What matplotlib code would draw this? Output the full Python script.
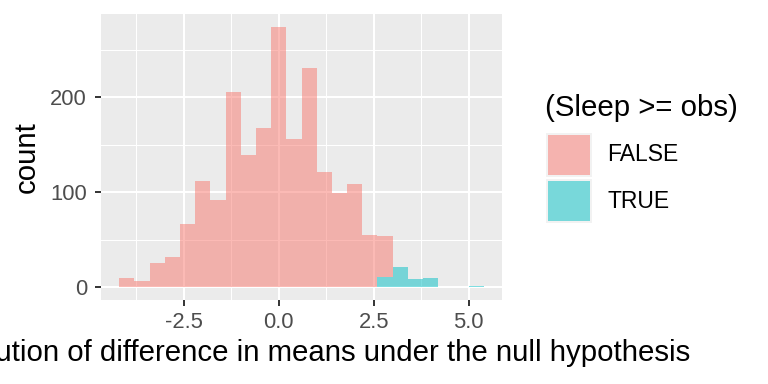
import matplotlib
matplotlib.use("Agg")
import matplotlib.pyplot as plt
from matplotlib.patches import Rectangle
from matplotlib.ticker import MultipleLocator
import numpy as np

plt.rcParams['font.family'] = ['Liberation Sans', 'DejaVu Sans']

# histogram bins (binwidth 0.4), counts
bin_centers = [-4.0, -3.6, -3.2, -2.8, -2.4, -2.0, -1.6, -1.2, -0.8, -0.4,
               0.0, 0.4, 0.8, 1.2, 1.6, 2.0, 2.4, 2.8, 3.2, 3.6, 4.0, 4.4, 4.8, 5.2]
false_counts = [10, 6, 25, 32, 66, 112, 92, 205, 139, 168,
                274, 156, 231, 121, 99, 109, 55, 43, 0, 0, 0, 0, 0, 0]
true_counts = [0, 0, 0, 0, 0, 0, 0, 0, 0, 0,
               0, 0, 0, 0, 0, 0, 0, 11, 21, 8, 10, 0, 0, 1]
binwidth = 0.4

legend_title = "(Sleep >= obs)"
legend_labels = ["FALSE", "TRUE"]
colors = ["#F8766D", "#00BFC4"]

W, H = 768, 384
fig = plt.figure(figsize=(W / 100, H / 100), dpi=100)
ax = fig.add_axes([101 / W, (H - 300) / H, 401 / W, 286 / H])

ax.set_facecolor("#EBEBEB")
ax.set_axisbelow(True)
ax.xaxis.set_major_locator(MultipleLocator(2.5))
ax.xaxis.set_minor_locator(MultipleLocator(1.25))
ax.yaxis.set_major_locator(MultipleLocator(100))
ax.yaxis.set_minor_locator(MultipleLocator(50))
ax.grid(which="major", color="white", linewidth=1.5)
ax.grid(which="minor", color="white", linewidth=0.75)

x = np.array(bin_centers)
t = np.array(true_counts)
f = np.array(false_counts)
# ggplot stacks the second level (TRUE) at the bottom
ax.bar(x, t, width=binwidth, color=colors[1], alpha=0.5, linewidth=0)
ax.bar(x, f, width=binwidth, bottom=t, color=colors[0], alpha=0.5, linewidth=0)

lo = min(bin_centers) - binwidth / 2
hi = max(bin_centers) + binwidth / 2
pad = (hi - lo) * 0.05
ax.set_xlim(lo - pad, hi + pad)
ymax = (f + t).max()
ax.set_ylim(-ymax * 0.05, ymax * 1.05)

ax.set_xticks([-2.5, 0.0, 2.5, 5.0])
ax.set_xticklabels(["-2.5", "0.0", "2.5", "5.0"])
ax.set_yticks([0, 100, 200])

for s in ax.spines.values():
    s.set_visible(False)
ax.tick_params(which="major", length=4.5, width=1.4, color="#333333",
               labelcolor="#4D4D4D", labelsize=15.8, pad=4)
ax.tick_params(axis="y", which="major", pad=5.5)
ax.tick_params(which="minor", length=0)

ax.set_xlabel("Distribution of difference in means under the null hypothesis",
              fontsize=21.2, color="black", labelpad=4.5)
ax.set_ylabel("count", fontsize=21.2, color="black", labelpad=7)

# legend
fig.text(545 / W, 1 - 108 / H, legend_title, fontsize=21.2, va="center", ha="left")
keys_top = [133, 179]
for i, (lab, col) in enumerate(zip(legend_labels, colors)):
    y0 = keys_top[i]
    fig.patches.append(Rectangle((546 / W, 1 - (y0 + 44) / H), 46 / W, 44 / H,
                                 transform=fig.transFigure, facecolor="#F2F2F2",
                                 edgecolor="none"))
    fig.patches.append(Rectangle((548 / W, 1 - (y0 + 42) / H), 42 / W, 40 / H,
                                 transform=fig.transFigure, facecolor=col,
                                 alpha=0.5, edgecolor="none"))
    fig.text(607 / W, 1 - (y0 + 22) / H, lab, fontsize=16.5, va="center", ha="left")

fig.savefig("out.png", dpi=100)
